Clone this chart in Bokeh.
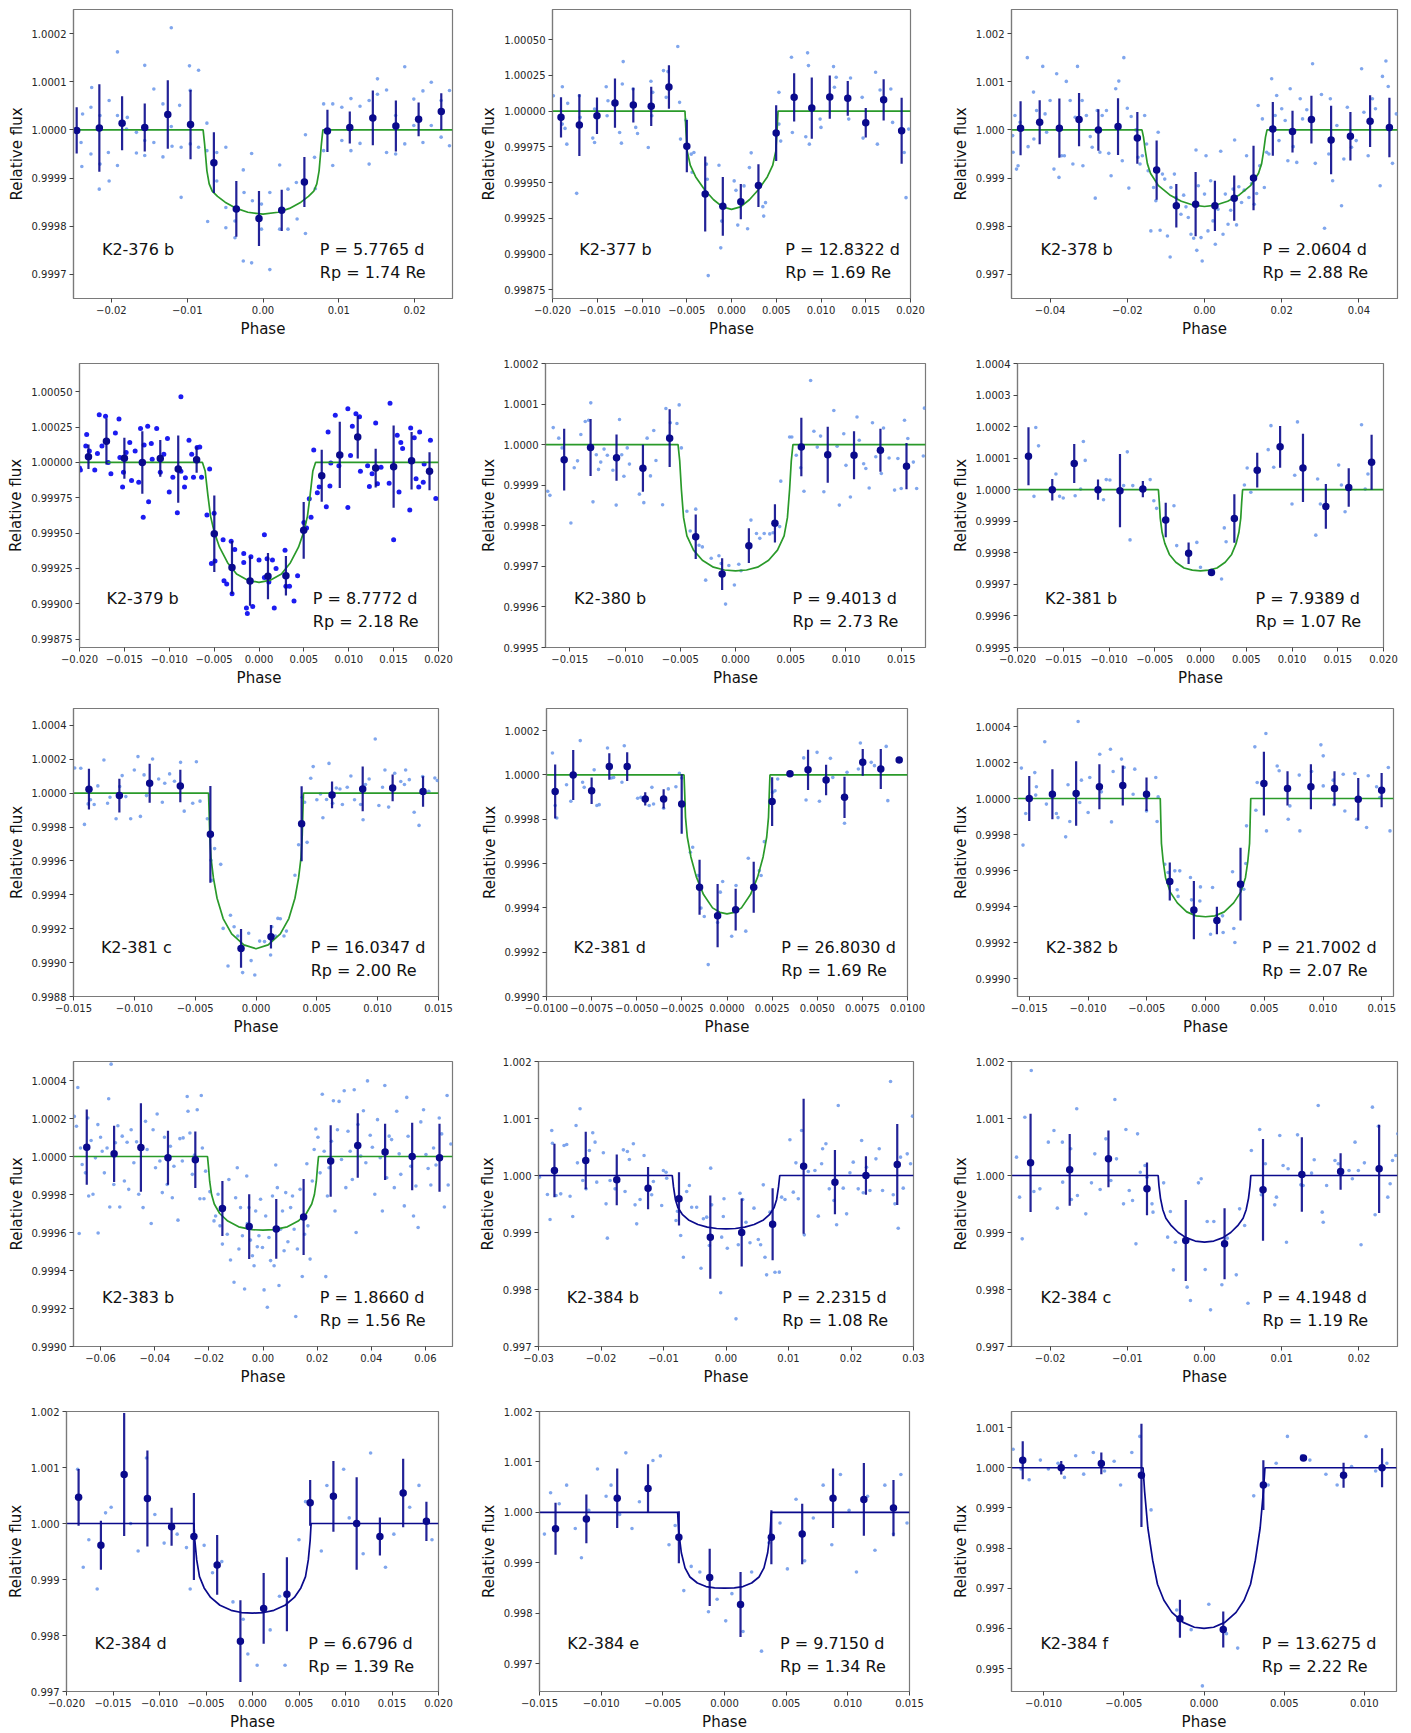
from bokeh.plotting import figure
from bokeh.layouts import column, row
from bokeh.models import Range1d, FixedTicker, CustomJSTickFormatter, Label
from bokeh.embed import file_html
from bokeh.resources import INLINE

FONT = "DejaVu Sans"
LIGHT = "#6a97ea"
BLUE = "#1010f0"
NAVY = "#0a0a8c"
GREEN = "#2a9a2a"

# Scatter points: (phase, flux offset in ppm)
# Binned points: (phase, flux offset in ppm, error in ppm)
# Model: left half of the transit curve (phase, ppm); mirrored about phase 0

names = ["K2-376 b", "K2-377 b", "K2-378 b", "K2-379 b", "K2-380 b", "K2-381 b",
         "K2-381 c", "K2-381 d", "K2-382 b", "K2-383 b", "K2-384 b", "K2-384 c",
         "K2-384 d", "K2-384 e", "K2-384 f"]
periods = ["5.7765", "12.8322", "2.0604", "8.7772", "9.4013", "7.9389", "16.0347", "26.8030",
           "21.7002", "1.8660", "2.2315", "4.1948", "6.6796", "9.7150", "13.6275"]
radii = ["1.74", "1.69", "2.88", "2.18", "2.73", "1.07", "2.00", "1.69",
         "2.07", "1.56", "1.08", "1.19", "1.39", "1.34", "2.22"]

# ---------------- K2-376 b ----------------
k376_pts = [(-0.0238,33),(-0.0239,-76),(-0.024,-26),(-0.0227,47),(-0.0226,88),(-0.0227,-50),(-0.0216,-123),(-0.0215,-71),(-0.0215,30),(-0.0203,61),(-0.0204,-47),(-0.0203,-106),(-0.0192,162),(-0.0192,-74),(-0.0192,30),(-0.0179,26),(-0.018,2),(-0.0167,-5),(-0.0167,-48),(-0.0156,134),(-0.0156,-53),(-0.0156,-22),(-0.0144,85),(-0.0144,-26),(-0.0132,54),(-0.0132,-56),(-0.0121,212),(-0.0121,7),(-0.012,-34),(-0.0108,-36),(-0.0108,-140),(-0.011,51),(-0.0097,133),(-0.0096,82),(-0.0096,-29),(-0.0085,124),(-0.0085,-36),(-0.0074,14),(-0.0073,-190),(-0.0074,-43),(-0.0061,-47),(-0.0061,-106),(-0.0049,-36),(-0.0049,-161),(-0.0049,-203),(-0.0037,-189),(-0.0037,-224),(-0.0026,-83),(-0.0026,-272),(-0.0025,-130),(-0.0015,-49),(-0.0015,-276),(-0.0014,-147),(-0.0002,-154),(-0.0002,-206),(0.0009,-130),(0.0009,-290),(0.0022,-73),(0.0022,-206),(0.0033,-123),(0.0033,-206),(0.0044,-109),(0.0045,-185),(0.0056,-10),(0.0056,-215),(0.0068,-57),(0.0069,-122),(0.008,54),(0.008,-43),(0.0092,54),(0.0092,-74),(0.0104,47),(0.0104,-22),(0.0116,65),(0.0116,-43),(0.0128,49),(0.0128,-28),(0.014,-71),(0.014,61),(0.0151,106),(0.0151,74),(0.0163,83),(0.0163,-47),(0.0175,30),(0.0175,-50),(0.0187,131),(0.0187,-29),(0.0199,64),(0.0199,9),(0.0211,81),(0.0211,-26),(0.0222,99),(0.0222,9),(0.0235,-15),(0.0235,61),(0.0246,82),(0.0246,-33)]
k376_bins = [(-0.02458,-1,48),(-0.02159,4,91),(-0.01859,14,56),(-0.0156,5,50),(-0.01256,32,71),(-0.00956,11,72),(-0.00648,-68,63),(-0.00352,-164,58),(-0.00053,-184,57),(0.00247,-167,43),(0.00546,-108,52),(0.0085,-2,44),(0.01145,5,33),(0.01449,25,57),(0.01753,8,53),(0.02053,22,35),(0.02352,38,38)]
k376_model = [(-0.025,0),(-0.0079,0),(-0.0077,-30),(-0.0074,-85),(-0.0071,-112),(-0.0067,-127),(-0.006,-138),(-0.005,-150),(-0.0035,-163),(-0.002,-171),(0.0,-175)]

# ---------------- K2-377 b ----------------
k377_pts = [(-0.0199,107),(-0.0189,170),(-0.0189,-91),(-0.0186,-121),(-0.0184,-231),(-0.0183,54),(-0.0173,-575),(-0.017,107),(-0.0169,-44),(-0.0155,-189),(-0.0153,-220),(-0.0153,14),(-0.014,170),(-0.0139,-33),(-0.0138,72),(-0.0125,-150),(-0.0123,-224),(-0.0121,346),(-0.0122,189),(-0.011,154),(-0.0107,-114),(-0.0105,-157),(-0.0093,-255),(-0.009,208),(-0.0088,131),(-0.0089,-33),(-0.0076,283),(-0.0073,96),(-0.0071,276),(-0.006,451),(-0.0058,61),(-0.0057,-196),(-0.0051,-63),(-0.0045,-301),(-0.0044,-428),(-0.0042,-290),(-0.0028,-371),(-0.0027,-477),(-0.0026,-1150),(-0.0014,-379),(-0.0012,-956),(-0.0011,-769),(0.0003,-488),(0.0005,-554),(0.0007,-797),(0.0014,-523),(0.0018,-822),(0.002,-395),(0.0022,-292),(0.0035,-668),(0.0036,-734),(0.0038,-640),(0.0053,-91),(0.0053,131),(0.0055,-210),(0.0067,376),(0.0068,-150),(0.0083,-180),(0.0085,407),(0.0086,318),(0.0087,-231),(0.0099,-56),(0.01,-114),(0.0114,311),(0.0115,166),(0.0117,236),(0.0131,-56),(0.0133,231),(0.0146,96),(0.0147,-189),(0.0161,271),(0.0163,-231),(0.0166,147),(0.0178,154),(0.018,-79),(0.0193,-290),(0.0195,-605),(0.0198,-126)]
k377_bins = [(-0.01905,-44,141),(-0.017,-98,216),(-0.01503,-33,128),(-0.01302,56,172),(-0.01097,42,121),(-0.00897,33,137),(-0.00699,168,152),(-0.00499,-245,183),(-0.00294,-579,262),(-0.00097,-666,206),(0.00104,-633,123),(0.00301,-521,150),(0.00499,-154,195),(0.007,96,169),(0.00897,21,214),(0.01098,98,151),(0.01299,89,122),(0.015,-82,103),(0.017,79,144),(0.01901,-138,231)]
k377_model = [(-0.02,0),(-0.0052,0),(-0.00508,-150),(-0.00495,-280),(-0.0046,-380),(-0.004,-460),(-0.003,-550),(-0.002,-620),(-0.001,-670),(0.0,-687)]

# ---------------- K2-378 b ----------------
k378_pts = [(-0.0497,-118),(-0.0496,-465),(-0.0491,299),(-0.0487,-813),(-0.0483,-743),(-0.0478,160),(-0.0459,1500),(-0.0457,-347),(-0.0443,785),(-0.0442,-188),(-0.0435,403),(-0.0419,1319),(-0.0413,333),(-0.0409,-49),(-0.04,611),(-0.039,-813),(-0.0383,1167),(-0.0377,-986),(-0.037,-535),(-0.0363,-535),(-0.0358,1007),(-0.0348,611),(-0.0341,-708),(-0.0335,264),(-0.0329,1319),(-0.0317,611),(-0.0315,-743),(-0.0306,299),(-0.0296,-139),(-0.0291,-361),(-0.0283,-1417),(-0.0278,403),(-0.0271,-465),(-0.0265,299),(-0.0254,403),(-0.0248,-486),(-0.0242,-951),(-0.023,854),(-0.0222,1014),(-0.0213,-639),(-0.0209,1500),(-0.02,451),(-0.0196,-1208),(-0.019,278),(-0.0178,0),(-0.0172,-569),(-0.0167,-708),(-0.0161,-535),(-0.0155,299),(-0.015,-292),(-0.0146,-847),(-0.0139,-2097),(-0.0132,-1194),(-0.0126,-1472),(-0.012,-49),(-0.0115,-2083),(-0.0109,-917),(-0.0103,-1021),(-0.0096,-2201),(-0.0089,-2639),(-0.0087,-1194),(-0.0078,-917),(-0.0074,-1403),(-0.0068,-1576),(-0.0061,-1750),(-0.0054,-1354),(-0.0048,-1597),(-0.0042,-1819),(-0.0035,-2167),(-0.0028,-2250),(-0.0022,-417),(-0.002,-2500),(-0.0016,-1160),(-0.0009,-2236),(-0.0006,-2722),(0.0,-1333),(0.0004,-535),(0.0009,-2097),(0.0016,-1056),(0.0022,-1889),(0.0028,-2375),(0.0035,-1646),(0.0042,-444),(0.0048,-2167),(0.0054,-1333),(0.0061,-1958),(0.0068,-1667),(0.0074,-1229),(0.0078,-208),(0.0083,-1972),(0.0089,-1181),(0.0096,-1507),(0.0103,-1250),(0.0109,-535),(0.0115,-1403),(0.0122,-1111),(0.0129,-1542),(0.0135,-1319),(0.0139,507),(0.0143,-743),(0.015,229),(0.0155,-1194),(0.0161,-465),(0.0167,-500),(0.0174,1063),(0.0183,299),(0.0187,715),(0.0193,-222),(0.02,438),(0.0209,194),(0.0216,-639),(0.0222,854),(0.023,-347),(0.0239,-674),(0.0248,646),(0.0254,229),(0.0265,417),(0.028,1375),(0.0287,-694),(0.0303,736),(0.0311,-2042),(0.0322,-500),(0.0326,646),(0.0332,-1056),(0.0343,90),(0.0355,-1576),(0.0361,-604),(0.037,472),(0.0381,-361),(0.0393,-222),(0.0407,1271),(0.0413,368),(0.0424,-535),(0.0435,646),(0.0443,438),(0.0455,-1160),(0.0461,1111),(0.047,1431),(0.0476,903),(0.0487,-694),(0.0497,333)]
k378_bins = [(-0.04765,35,562),(-0.0427,160,458),(-0.0376,35,615),(-0.0325,215,552),(-0.0275,0,430),(-0.0224,69,590),(-0.0174,-167,538),(-0.0124,-833,615),(-0.0073,-1576,451),(-0.0023,-1542,667),(0.0027,-1576,521),(0.0077,-1417,469),(0.0127,-1000,670),(0.0177,21,556),(0.0228,-35,434),(0.0277,215,496),(0.0328,-208,712),(0.0378,-132,503),(0.0429,181,538),(0.0479,49,618)]
k378_model = [(-0.05,0),(-0.0162,0),(-0.0158,-150),(-0.0153,-450),(-0.0148,-700),(-0.014,-900),(-0.012,-1150),(-0.009,-1350),(-0.006,-1480),(-0.003,-1560),(0.0,-1590)]

# ---------------- K2-379 b ----------------
k379_pts = [(-0.02,-40),(-0.0199,-53),(-0.0192,198),(-0.0193,116),(-0.0189,81),(-0.0183,-53),(-0.018,63),(-0.0178,337),(-0.0175,116),(-0.0171,326),(-0.0168,0),(-0.0165,-81),(-0.016,209),(-0.0156,307),(-0.0155,35),(-0.0152,-174),(-0.0151,-70),(-0.0148,70),(-0.0144,140),(-0.0142,-128),(-0.0138,81),(-0.0134,-140),(-0.0132,240),(-0.0129,-388),(-0.0128,123),(-0.0124,256),(-0.0123,-279),(-0.012,133),(-0.0119,23),(-0.0114,240),(-0.011,-70),(-0.0106,58),(-0.0102,170),(-0.01,-209),(-0.0096,-105),(-0.0091,-356),(-0.0087,465),(-0.0087,-63),(-0.0083,-174),(-0.0082,-109),(-0.0078,156),(-0.0075,58),(-0.0073,-105),(-0.0069,105),(-0.0066,109),(-0.0064,-105),(-0.0058,-372),(-0.0055,-47),(-0.0053,-716),(-0.005,-360),(-0.0049,-698),(-0.004,-547),(-0.0039,-837),(-0.0036,-860),(-0.0031,-558),(-0.003,-930),(-0.0027,-616),(-0.0017,-644),(-0.0017,-709),(-0.0014,-1030),(-0.0013,-1070),(-0.0009,-667),(-0.0007,-1019),(0.0,-691),(0.0006,-814),(0.0006,-512),(0.0009,-681),(0.0011,-847),(0.0015,-691),(0.0017,-1030),(0.0019,-751),(0.0029,-621),(0.003,-877),(0.0034,-877),(0.0039,-981),(0.0043,-802),(0.005,-426),(0.0053,-465),(0.0056,-258),(0.0058,-388),(0.0061,88),(0.0065,-214),(0.0067,-174),(0.0075,-314),(0.0077,216),(0.0079,-167),(0.008,-5),(0.0085,333),(0.0089,-23),(0.0099,379),(0.0099,-319),(0.0102,49),(0.0104,256),(0.0108,344),(0.0112,323),(0.0113,-63),(0.0121,-23),(0.0123,-170),(0.0126,-81),(0.013,279),(0.0132,-151),(0.0136,-35),(0.0145,-147),(0.0146,419),(0.015,-547),(0.0154,193),(0.0156,-209),(0.0158,140),(0.016,98),(0.0168,-337),(0.0169,244),(0.0173,174),(0.0175,-116),(0.0178,-174),(0.0179,216),(0.0183,-140),(0.0184,-12),(0.0191,156),(0.0197,-256)]
k379_bins = [(-0.019,40,87),(-0.017,149,163),(-0.015,30,145),(-0.013,0,221),(-0.011,28,130),(-0.009,-47,238),(-0.00695,19,93),(-0.00498,-505,271),(-0.00301,-744,188),(-0.001,-840,174),(0.001,-805,163),(0.003,-802,140),(0.00498,-481,201),(0.00699,-95,184),(0.009,53,235),(0.011,179,151),(0.013,-40,137),(0.015,-30,291),(0.017,12,204),(0.019,-63,134)]
k379_model = [(-0.02,0),(-0.0063,0),(-0.006,-60),(-0.0057,-230),(-0.0054,-380),(-0.005,-490),(-0.0044,-600),(-0.0035,-710),(-0.0025,-790),(-0.0012,-835),(0.0,-849)]

# ---------------- K2-380 b ----------------
k380_pts = [(-0.017,-115),(-0.0168,-125),(-0.0165,42),(-0.016,16),(-0.0157,-8),(-0.0149,-193),(-0.0146,-57),(-0.0143,-40),(-0.014,25),(-0.0136,57),(-0.0133,60),(-0.0131,103),(-0.0129,-141),(-0.0126,-25),(-0.0124,-61),(-0.0122,-43),(-0.0119,-11),(-0.0116,-26),(-0.0111,-63),(-0.0108,-149),(-0.0105,62),(-0.0103,-25),(-0.0101,-78),(-0.0098,-8),(-0.0096,-48),(-0.0087,-122),(-0.0083,-143),(-0.008,16),(-0.0077,-77),(-0.0074,35),(-0.0072,-39),(-0.0066,-148),(-0.0063,89),(-0.0061,21),(-0.0059,54),(-0.0053,52),(-0.0051,98),(-0.0049,-8),(-0.0044,-164),(-0.0041,-213),(-0.0036,-159),(-0.0033,-248),(-0.003,-252),(-0.0027,-334),(-0.0022,-280),(-0.0015,-274),(-0.0013,-293),(-0.0009,-393),(-0.0006,-298),(-0.0001,-346),(0.0003,-295),(0.0005,-311),(0.0014,-186),(0.0019,-219),(0.0022,-231),(0.0026,-219),(0.0031,-220),(0.0034,-217),(0.004,-202),(0.0041,-90),(0.0049,19),(0.0051,19),(0.0055,-26),(0.0059,-57),(0.0062,-115),(0.0068,158),(0.0071,33),(0.0074,-6),(0.0077,21),(0.008,-116),(0.0089,84),(0.0092,-4),(0.0094,-149),(0.0098,27),(0.01,-51),(0.0104,-129),(0.011,68),(0.0112,11),(0.0116,-47),(0.0118,-59),(0.0121,-107),(0.0124,54),(0.0127,-30),(0.0132,-71),(0.0134,41),(0.0139,-33),(0.0144,-112),(0.0147,-34),(0.015,-108),(0.0153,60),(0.0156,15),(0.0161,-43),(0.0164,-108),(0.017,-28),(0.0171,90)]
k380_bins = [(-0.01551,-37,76),(-0.01312,-7,70),(-0.01077,-32,57),(-0.00838,-58,58),(-0.00596,16,71),(-0.0036,-227,55),(-0.00121,-319,39),(0.00121,-249,43),(0.00357,-194,47),(0.00596,-6,72),(0.00835,-25,69),(0.01073,-26,59),(0.01312,-14,53),(0.01548,-53,57)]
k380_model = [(-0.0172,0),(-0.0052,0),(-0.00505,-40),(-0.0049,-110),(-0.0047,-180),(-0.0044,-225),(-0.0038,-260),(-0.003,-285),(-0.002,-302),(-0.001,-309),(0.0,-311)]

# ---------------- K2-381 b ----------------
k381b_pts = [(-0.0182,-21),(-0.018,197),(-0.0177,139),(-0.0158,50),(-0.0154,-21),(-0.015,-26),(-0.0137,-19),(-0.0131,2),(-0.0128,153),(-0.0126,93),(-0.0106,-32),(-0.0103,32),(-0.0099,31),(-0.0084,13),(-0.008,120),(-0.0077,-159),(-0.0074,13),(-0.0055,32),(-0.0051,-35),(-0.0048,-59),(-0.0029,-51),(-0.0026,-177),(-0.0004,-167),(0.0,-246),(0.0013,-260),(0.0023,-283),(0.0026,-121),(0.0028,-165),(0.0048,15),(0.0051,69),(0.0055,-8),(0.0074,127),(0.0077,203),(0.008,71),(0.01,-45),(0.0103,46),(0.0106,215),(0.0128,34),(0.0126,-144),(0.0131,-45),(0.0151,78),(0.0154,15),(0.0158,-70),(0.0176,206),(0.018,2),(0.0183,50)]
k381b_bins = [(-0.0188,106,92),(-0.0162,0,34),(-0.0138,83,62),(-0.0112,0,32),(-0.0088,-3,116),(-0.0063,2,26),(-0.0038,-96,55),(-0.0013,-201,34),(0.0012,-262,11),(0.0037,-91,77),(0.0062,62,55),(0.0087,136,66),(0.0112,69,108),(0.0137,-53,71),(0.0162,7,61),(0.0187,87,87)]
k381b_model = [(-0.02,0),(-0.0046,0),(-0.0045,-40),(-0.0044,-90),(-0.0042,-135),(-0.0039,-170),(-0.0034,-205),(-0.0027,-230),(-0.0018,-248),(-0.0009,-255),(0.0,-257)]

# ---------------- K2-381 c ----------------
k381c_pts = [(-0.0149,149),(-0.0144,147),(-0.0141,-184),(-0.0138,-63),(-0.0136,-39),(-0.0133,-67),(-0.013,43),(-0.0125,196),(-0.0122,-59),(-0.012,-24),(-0.0115,-151),(-0.0112,39),(-0.011,104),(-0.0107,-20),(-0.0103,-151),(-0.01,137),(-0.0097,216),(-0.0095,-137),(-0.0092,108),(-0.009,-14),(-0.0085,202),(-0.008,84),(-0.0077,-53),(-0.0075,59),(-0.0071,114),(-0.0067,71),(-0.0062,182),(-0.0059,-106),(-0.0052,-59),(-0.0049,186),(-0.0046,-47),(-0.004,-151),(-0.0037,-396),(-0.0036,-514),(-0.0034,-327),(-0.0029,-420),(-0.0027,-798),(-0.0023,-1020),(-0.0021,-720),(-0.0018,-788),(-0.0015,-843),(-0.0011,-1059),(-0.0006,-827),(-0.0004,-988),(-0.0001,-1073),(0.0003,-873),(0.0007,-876),(0.0012,-955),(0.0013,-788),(0.0016,-843),(0.0018,-739),(0.002,-741),(0.0023,-843),(0.0025,-814),(0.0032,-484),(0.0035,-304),(0.0038,-24),(0.004,-53),(0.0042,-290),(0.0045,88),(0.0047,157),(0.005,-39),(0.0053,-4),(0.0055,-145),(0.0058,-37),(0.006,176),(0.0063,-59),(0.0066,31),(0.0069,25),(0.0071,-67),(0.0075,35),(0.0078,102),(0.0081,-39),(0.0086,-67),(0.0088,-157),(0.009,51),(0.0093,84),(0.0098,320),(0.0101,-73),(0.0104,35),(0.0106,137),(0.0109,-82),(0.0114,118),(0.0119,69),(0.0122,51),(0.0123,137),(0.0126,80),(0.013,-112),(0.0134,-190),(0.0137,98),(0.0142,12),(0.0147,90),(0.0149,75)]
k381c_bins = [(-0.01373,24,120),(-0.01123,-14,100),(-0.00874,59,115),(-0.00622,43,96),(-0.00375,-243,285),(-0.00123,-916,115),(0.00123,-847,69),(0.00375,-180,221),(0.00625,-10,79),(0.00877,25,132),(0.01123,31,79),(0.01373,10,90)]
k381c_model = [(-0.015,0),(-0.0039,0),(-0.00385,-120),(-0.0038,-250),(-0.0037,-380),(-0.0035,-500),(-0.0032,-620),(-0.0027,-740),(-0.002,-830),(-0.001,-895),(0.0,-918)]

# ---------------- K2-381 d ----------------
k381d_pts = [(-0.00967,99),(-0.00952,-138),(-0.00943,-194),(-0.00889,-44),(-0.00865,-119),(-0.00813,155),(-0.008,-33),(-0.00791,-56),(-0.00736,23),(-0.00721,-138),(-0.00708,-134),(-0.00662,122),(-0.0064,-14),(-0.00628,-11),(-0.00582,-33),(-0.00569,132),(-0.00495,-105),(-0.00477,-101),(-0.00431,-138),(-0.00416,-56),(-0.00407,-131),(-0.00351,-150),(-0.00325,-63),(-0.00283,-53),(-0.00264,8),(-0.00251,-14),(-0.00203,-349),(-0.0019,-326),(-0.00163,-454),(-0.00144,-601),(-0.00126,-639),(-0.00104,-856),(-0.00052,-666),(-0.00037,-529),(-0.00024,-481),(0.00026,-728),(0.0005,-499),(0.00104,-705),(0.00118,-376),(0.00179,-432),(0.00189,-454),(0.00207,-301),(0.00253,-78),(0.00266,-71),(0.00281,-18),(0.00355,2),(0.00425,77),(0.00438,-113),(0.00499,102),(0.00512,-119),(0.00573,75),(0.00586,-11),(0.00665,12),(0.00651,-218),(0.00728,27),(0.00739,144),(0.00799,57),(0.00817,42),(0.00882,129),(0.00891,-116),(0.00952,68)]
k381d_bins = [(-0.00952,-75,122),(-0.00852,0,113),(-0.0075,-71,60),(-0.00652,38,60),(-0.00553,38,65),(-0.00453,-108,30),(-0.00351,-108,43),(-0.00251,-131,134),(-0.00152,-507,124),(-0.00052,-635,143),(0.00048,-608,94),(0.00148,-507,115),(0.0025,-120,110),(0.00349,5,10),(0.00449,23,91),(0.00549,-23,69),(0.00651,-101,93),(0.00752,57,60),(0.00852,27,90),(0.00954,68,8)]
k381d_model = [(-0.01,0),(-0.00238,0),(-0.00234,-90),(-0.0023,-190),(-0.0022,-280),(-0.002,-370),(-0.0017,-460),(-0.0013,-540),(-0.0008,-600),(-0.0004,-620),(0.0,-627)]

# ---------------- K2-382 b ----------------
k382_pts = [(-0.01567,169),(-0.01553,-259),(-0.0153,-83),(-0.01453,144),(-0.01439,65),(-0.01445,19),(-0.01368,315),(-0.01354,-31),(-0.01269,-83),(-0.01255,-106),(-0.0119,-213),(-0.0117,76),(-0.01155,-128),(-0.01084,428),(-0.0107,-22),(-0.01056,102),(-0.00999,-78),(-0.00985,117),(-0.009,246),(-0.00886,37),(-0.00809,274),(-0.008,-130),(-0.00786,150),(-0.00715,219),(-0.00693,172),(-0.00616,24),(-0.00602,163),(-0.00502,-69),(-0.00423,117),(-0.00412,-128),(-0.00403,9),(-0.00346,-365),(-0.00318,-411),(-0.00261,-402),(-0.00241,-507),(-0.00233,-544),(-0.00219,-402),(-0.00128,-439),(-0.00119,-563),(-0.00048,-569),(-0.00043,-491),(0.00043,-754),(0.0006,-494),(0.00094,-685),(0.00145,-652),(0.0015,-744),(0.0023,-407),(0.00241,-722),(0.0025,-800),(0.00326,-504),(0.00343,-361),(0.00349,-152),(0.0042,287),(0.00429,-65),(0.0044,89),(0.00514,361),(0.00519,-180),(0.0061,181),(0.00627,154),(0.00704,-115),(0.00718,-41),(0.00798,130),(0.00803,-180),(0.00888,70),(0.00903,150),(0.00982,298),(0.01002,237),(0.01002,70),(0.01087,102),(0.01093,-35),(0.01172,135),(0.01186,-69),(0.01271,139),(0.01286,-115),(0.01371,-161),(0.01385,126),(0.01456,65),(0.01484,6),(0.01556,172),(0.0157,-180)]
k382_bins = [(-0.015,0,125),(-0.01303,24,139),(-0.01101,28,179),(-0.00903,65,125),(-0.00704,72,111),(-0.00502,24,93),(-0.00304,-461,105),(-0.00099,-620,162),(0.00097,-678,76),(0.00298,-476,202),(0.00497,83,177),(0.00698,56,95),(0.00897,65,125),(0.01098,56,95),(0.013,-4,118),(0.01499,46,95)]
k382_model = [(-0.016,0),(-0.00385,0),(-0.0038,-130),(-0.00375,-250),(-0.0036,-350),(-0.0034,-440),(-0.003,-520),(-0.0024,-580),(-0.0016,-630),(-0.0008,-652),(0.0,-657)]

# ---------------- K2-383 b ----------------
k383_pts = [(-0.0697,211),(-0.0689,159),(-0.0684,363),(-0.0679,-405),(-0.0674,45),(-0.0668,-42),(-0.0656,-86),(-0.0647,203),(-0.0644,-208),(-0.0635,84),(-0.0628,-199),(-0.0619,-7),(-0.061,168),(-0.0609,-403),(-0.06,101),(-0.0594,28),(-0.0586,-86),(-0.0576,45),(-0.057,304),(-0.0566,-266),(-0.0561,486),(-0.0551,-147),(-0.0545,72),(-0.0536,162),(-0.0529,-266),(-0.052,107),(-0.0512,-129),(-0.0502,75),(-0.0496,-173),(-0.0487,141),(-0.0477,-33),(-0.0467,77),(-0.0459,-199),(-0.0443,-269),(-0.0434,185),(-0.0428,37),(-0.0413,-353),(-0.0406,141),(-0.0397,-59),(-0.0391,224),(-0.0381,-24),(-0.0372,-190),(-0.0364,101),(-0.0354,-147),(-0.0342,54),(-0.0335,-217),(-0.0329,-51),(-0.0314,-335),(-0.0307,94),(-0.0298,-24),(-0.0295,98),(-0.028,316),(-0.0277,238),(-0.027,124),(-0.0261,-94),(-0.0253,7),(-0.0243,246),(-0.0233,-222),(-0.0228,321),(-0.0224,45),(-0.0218,-222),(-0.0212,-77),(-0.0196,-185),(-0.0181,-339),(-0.0175,-313),(-0.0166,-199),(-0.0159,-365),(-0.015,-461),(-0.0142,-269),(-0.0132,-409),(-0.0126,-121),(-0.012,-545),(-0.0107,-662),(-0.0101,-217),(-0.0095,-59),(-0.0089,-487),(-0.0083,-269),(-0.0076,-417),(-0.0068,-697),(-0.006,-103),(-0.0058,-353),(-0.0052,-269),(-0.0046,-440),(-0.0039,-522),(-0.0033,-575),(-0.0027,-287),(-0.0021,-475),(-0.0015,-417),(-0.0009,-225),(-0.0002,-479),(0.0004,-702),(0.001,-313),(0.0016,-793),(0.0022,-426),(0.0028,-548),(0.0035,-208),(0.0041,-575),(0.0047,-45),(0.0053,-164),(0.0059,-679),(0.0065,-383),(0.0072,-287),(0.0078,-496),(0.0084,-190),(0.0092,-449),(0.0102,-269),(0.0109,-208),(0.0115,-383),(0.0121,-842),(0.0127,-487),(0.0137,-173),(0.0145,-632),(0.0154,-409),(0.0162,-38),(0.0166,-365),(0.0174,-540),(0.0182,-129),(0.0189,37),(0.0195,145),(0.0203,101),(0.0211,-86),(0.0219,328),(0.0226,28),(0.0232,-632),(0.0238,-208),(0.0244,-59),(0.0253,80),(0.026,293),(0.0266,-287),(0.0275,141),(0.0281,290),(0.029,-16),(0.03,346),(0.0306,-164),(0.0314,133),(0.0322,28),(0.033,-121),(0.0337,351),(0.0344,-400),(0.0351,168),(0.0361,2),(0.0371,241),(0.038,-33),(0.0386,398),(0.0396,112),(0.0404,49),(0.0413,-199),(0.0423,194),(0.0433,-7),(0.0441,-287),(0.045,374),(0.0457,-112),(0.0466,107),(0.0475,89),(0.0485,-164),(0.0494,238),(0.0503,14),(0.0509,-94),(0.0522,-260),(0.0531,311),(0.0536,107),(0.0546,-51),(0.0556,-313),(0.0565,-155),(0.0573,-374),(0.0583,182),(0.0593,246),(0.0602,10),(0.061,-63),(0.062,-150),(0.063,45),(0.0639,-45),(0.0651,203),(0.066,119),(0.067,-266),(0.068,321),(0.0684,-150),(0.0694,66)]
k383_bins = [(-0.0651,49,198),(-0.055,14,148),(-0.0451,47,233),(-0.0351,-7,142),(-0.025,-17,149),(-0.015,-274,145),(-0.0051,-369,170),(0.0049,-381,157),(0.015,-318,200),(0.025,-24,188),(0.035,58,170),(0.0451,24,148),(0.0551,0,178),(0.0652,-7,179)]
k383_model = [(-0.07,0),(-0.0205,0),(-0.0201,-60),(-0.0197,-130),(-0.019,-200),(-0.018,-250),(-0.016,-300),(-0.013,-340),(-0.009,-370),(-0.004,-385),(0.0,-388)]

# ---------------- K2-384 b ----------------
k384b_pts = [(-0.02985,-29),(-0.02857,-333),(-0.02815,-772),(-0.02788,789),(-0.02777,567),(-0.02719,-351),(-0.02644,-322),(-0.02591,526),(-0.02548,544),(-0.02495,-363),(-0.02452,-719),(-0.02399,877),(-0.02377,222),(-0.02335,1170),(-0.02292,-88),(-0.02239,-234),(-0.02186,439),(-0.02132,749),(-0.02095,585),(-0.02068,-117),(-0.01962,398),(-0.01919,-497),(-0.01898,-1099),(-0.01855,-88),(-0.01775,-234),(-0.01722,-99),(-0.01642,450),(-0.01615,-281),(-0.01578,421),(-0.01546,281),(-0.01482,556),(-0.01455,-515),(-0.01429,-848),(-0.01375,-421),(-0.01311,351),(-0.01242,-234),(-0.01189,-339),(-0.01162,-105),(-0.01029,-526),(-0.01002,88),(-0.00959,58),(-0.00949,-47),(-0.008,-789),(-0.00778,-626),(-0.00725,-1053),(-0.00682,-1433),(-0.00629,-281),(-0.00586,-175),(-0.00549,-556),(-0.00469,-556),(-0.004,-1626),(-0.00362,-760),(-0.00309,-731),(-0.00267,-1228),(-0.00245,129),(-0.00229,-515),(-0.00085,-2058),(-0.00069,-1082),(-0.00043,-719),(-0.00032,-409),(0.00021,-1275),(0.0016,-2515),(0.00197,-1216),(0.00224,-310),(0.00267,-421),(0.0032,-819),(0.00384,-1181),(0.00448,-573),(0.00517,-1123),(0.00554,-1216),(0.00597,-164),(0.00624,-1433),(0.0065,-1743),(0.00704,-643),(0.00784,-1696),(0.00853,-1696),(0.0089,-380),(0.00944,-421),(0.01023,626),(0.01077,-292),(0.01119,222),(0.01157,-409),(0.0121,789),(0.01253,-1041),(0.01317,70),(0.01423,88),(0.01477,-713),(0.0153,205),(0.01546,468),(0.01599,556),(0.01652,-234),(0.01727,-439),(0.0177,-865),(0.01796,1228),(0.01876,-222),(0.0193,-673),(0.01983,47),(0.02036,234),(0.02116,-234),(0.0217,614),(0.02196,-304),(0.02249,146),(0.02303,-263),(0.02399,292),(0.02452,468),(0.02505,-263),(0.02633,1649),(0.02676,-339),(0.02703,-497),(0.02756,-924),(0.02793,322),(0.02836,-222),(0.029,380),(0.02953,205),(0.02985,1041)]
k384b_bins = [(-0.02745,88,468),(-0.02244,263,503),(-0.01748,-76,444),(-0.01247,-222,371),(-0.00752,-409,468),(-0.00251,-1082,731),(0.00251,-1000,596),(0.00746,-854,632),(0.01242,164,1184),(0.01743,-117,564),(0.02239,0,339),(0.0274,193,711)]
k384b_model = [(-0.03,0),(-0.0086,0),(-0.0084,-200),(-0.0081,-420),(-0.0077,-560),(-0.007,-680),(-0.006,-780),(-0.0045,-860),(-0.003,-905),(-0.0015,-930),(0.0,-936)]

# ---------------- K2-384 c ----------------
k384c_pts = [(-0.02435,322),(-0.02396,-380),(-0.02361,-1111),(-0.02327,1023),(-0.02244,1842),(-0.0221,-281),(-0.02132,-234),(-0.02023,585),(-0.0195,789),(-0.01906,-573),(-0.01841,585),(-0.01837,-117),(-0.01733,468),(-0.01724,-421),(-0.01655,1170),(-0.01646,-351),(-0.01538,-673),(-0.01464,-129),(-0.01421,380),(-0.01352,-246),(-0.01278,643),(-0.01213,-88),(-0.01161,1333),(-0.0114,292),(-0.01049,-497),(-0.01018,807),(-0.00975,-263),(-0.00932,-439),(-0.00888,-1199),(-0.00867,731),(-0.00832,58),(-0.00771,175),(-0.00745,-29),(-0.0068,-497),(-0.00667,-643),(-0.00529,-129),(-0.00477,-1082),(-0.00442,-632),(-0.00403,-1655),(-0.00377,-1170),(-0.00225,-1959),(-0.00182,-2193),(-0.00078,-129),(-0.00043,-58),(0.00009,-1649),(0.00035,-807),(0.00078,-2357),(0.00121,-807),(0.00225,-1918),(0.00295,-1099),(0.00412,-1743),(0.00455,-585),(0.0052,-877),(0.00563,-2240),(0.00607,439),(0.00715,807),(0.00737,-339),(0.00789,205),(0.0091,-515),(0.00932,-380),(0.00975,702),(0.01018,175),(0.01062,-1170),(0.01083,117),(0.01205,713),(0.01248,-164),(0.01278,-175),(0.01387,41),(0.01421,275),(0.01473,1228),(0.01525,-643),(0.01538,-819),(0.01582,-175),(0.0169,263),(0.01733,205),(0.01776,12),(0.01872,88),(0.01915,-58),(0.0195,585),(0.01993,88),(0.02028,-1216),(0.02071,222),(0.02175,1199),(0.0221,-690),(0.02253,865),(0.02374,-380),(0.02405,-146),(0.02435,263),(0.02478,351),(0.02504,731)]
k384c_bins = [(-0.02253,222,863),(-0.01746,99,629),(-0.01244,292,497),(-0.00745,-234,462),(-0.00243,-1140,711),(0.0026,-1199,623),(0.00758,-251,892),(0.01261,18,652),(0.01763,70,322),(0.02262,117,775)]
k384c_model = [(-0.025,0),(-0.006,0),(-0.0059,-180),(-0.0057,-400),(-0.0054,-600),(-0.005,-750),(-0.0043,-880),(-0.0034,-1000),(-0.0024,-1090),(-0.0012,-1150),(0.0,-1170)]

# ---------------- K2-384 d ----------------
k384d_pts = [(-0.0188,970),(-0.0182,-780),(-0.0176,-290),(-0.0167,-1170),(-0.0158,190),(-0.0152,290),(-0.0131,0),(-0.0123,-490),(-0.0114,1170),(-0.0105,160),(-0.0095,-350),(-0.0081,-190),(-0.0071,-430),(-0.0067,-1170),(-0.0052,-390),(-0.0043,-880),(-0.0033,-680),(-0.0021,-1400),(-0.001,-1710),(-0.0005,-2330),(0.0005,-2530),(0.0019,-1900),(0.0029,-1300),(0.0035,-2530),(0.005,-290),(0.0057,390),(0.0074,-490),(0.008,680),(0.0098,970),(0.0104,100),(0.0119,-540),(0.0127,1260),(0.0143,-780),(0.0152,-190),(0.0169,290),(0.0179,680),(0.0193,-290)]
k384d_bins = [(-0.0187,467,506),(-0.0163,-389,437),(-0.0138,875,1100),(-0.0113,447,856),(-0.0087,-58,340),(-0.0063,-233,778),(-0.0038,-739,535),(-0.0013,-2101,730),(0.0012,-1517,632),(0.0037,-1265,661),(0.0062,370,408),(0.0087,486,632),(0.0112,0,827),(0.0137,-233,340),(0.0162,545,613),(0.0187,39,350)]
k384d_model = [(-0.02,0),(-0.0063,0),(-0.0062,-300),(-0.006,-650),(-0.0057,-950),(-0.0052,-1150),(-0.0045,-1320),(-0.0035,-1460),(-0.0023,-1550),(-0.0012,-1590),(0.0,-1600)]

# ---------------- K2-384 e ----------------
k384e_pts = [(-0.0146,-430),(-0.0141,390),(-0.0134,170),(-0.0128,540),(-0.0121,-320),(-0.0116,-900),(-0.011,40),(-0.0103,860),(-0.0096,320),(-0.0092,540),(-0.0085,-40),(-0.008,1180),(-0.0075,-320),(-0.0069,210),(-0.0058,1030),(-0.0052,1120),(-0.0045,-640),(-0.004,-260),(-0.0033,-1550),(-0.0027,-1070),(-0.002,-1180),(-0.0013,-1970),(-0.0006,-1720),(0.0001,-2150),(0.0006,-1610),(0.0015,-2360),(0.0022,-1180),(0.003,-2750),(0.0036,-600),(0.0045,-210),(0.0051,-1120),(0.0058,260),(0.0065,-960),(0.0072,-110),(0.008,540),(0.0087,-640),(0.0094,750),(0.0101,40),(0.0107,-1180),(0.0116,320),(0.0122,-750),(0.013,540),(0.0137,-430),(0.0143,750),(0.0148,-210)]
k384e_bins = [(-0.0137,-322,515),(-0.0112,-129,483),(-0.0087,279,590),(-0.0062,472,483),(-0.0037,-494,515),(-0.0012,-1288,569),(0.0013,-1824,644),(0.0038,-494,536),(0.0063,-429,600),(0.0088,279,590),(0.0113,258,719),(0.0137,86,558)]
k384e_model = [(-0.015,0),(-0.0038,0),(-0.0037,-400),(-0.0035,-800),(-0.0032,-1100),(-0.0028,-1280),(-0.0022,-1400),(-0.0015,-1470),(-0.0008,-1495),(0.0,-1500)]

# ---------------- K2-384 f ----------------
k384f_pts = [(-0.0119,460),(-0.0114,-30),(-0.0109,-300),(-0.0102,190),(-0.0097,-30),(-0.0091,110),(-0.0087,-240),(-0.008,300),(-0.0075,-160),(-0.0069,380),(-0.0062,-80),(-0.0056,160),(-0.0052,-430),(-0.0045,380),(-0.004,780),(-0.0033,-1050),(-0.0017,-3540),(-0.0008,-4030),(-0.0001,-5430),(0.0003,-3400),(0.0014,-4130),(0.0021,-4490),(0.0031,-700),(0.004,-430),(0.0045,110),(0.0052,780),(0.0061,300),(0.0066,190),(0.0076,-160),(0.0083,-430),(0.0092,30),(0.0101,780),(0.0107,-80),(0.0114,110)]
k384f_bins = [(-0.0113,189,473),(-0.0089,0,170),(-0.0064,108,270),(-0.0039,-189,1284),(-0.0015,-3757,473),(0.0012,-4027,446),(0.0037,-432,620),(0.0062,243,50),(0.0087,-189,311),(0.0111,0,486)]
k384f_model = [(-0.012,0),(-0.0038,0),(-0.0037,-600),(-0.0035,-1500),(-0.0032,-2300),(-0.0029,-2900),(-0.0025,-3300),(-0.002,-3600),(-0.0013,-3850),(-0.0006,-3970),(0.0,-4000)]

# ---------------- axis limits and ticks ----------------
xlims = [(-0.025, 0.025), (-0.02, 0.02), (-0.05, 0.05), (-0.02, 0.02), (-0.0172, 0.0172),
         (-0.02, 0.02), (-0.015, 0.015), (-0.01, 0.01), (-0.016, 0.016), (-0.07, 0.07),
         (-0.03, 0.03), (-0.025, 0.025), (-0.02, 0.02), (-0.015, 0.015), (-0.012, 0.012)]
ylims = [(0.99965, 1.00025), (0.99869, 1.00071), (0.9965, 1.0025), (0.99869, 1.0007),
         (0.9995, 1.0002), (0.9995, 1.0004), (0.9988, 1.0005), (0.999, 1.0003),
         (0.9989, 1.0005), (0.999, 1.0005), (0.997, 1.002), (0.997, 1.002),
         (0.997, 1.002), (0.99645, 1.002), (0.99443, 1.0014)]

xt_a = [-0.02, -0.01, 0.0, 0.01, 0.02]
xt_b = [-0.02, -0.015, -0.01, -0.005, 0.0, 0.005, 0.01, 0.015, 0.02]
xt_c = [-0.04, -0.02, 0.0, 0.02, 0.04]
xt_d = [-0.015, -0.01, -0.005, 0.0, 0.005, 0.01, 0.015]
xt_e = [-0.01, -0.0075, -0.005, -0.0025, 0.0, 0.0025, 0.005, 0.0075, 0.01]
xt_f = [-0.06, -0.04, -0.02, 0.0, 0.02, 0.04, 0.06]
xt_g = [-0.03, -0.02, -0.01, 0.0, 0.01, 0.02, 0.03]
xt_h = [-0.01, -0.005, 0.0, 0.005, 0.01]

yt_a = [0.9997, 0.9998, 0.9999, 1.0, 1.0001, 1.0002]
yt_b = [0.99875, 0.999, 0.99925, 0.9995, 0.99975, 1.0, 1.00025, 1.0005]
yt_c = [0.997, 0.998, 0.999, 1.0, 1.001, 1.002]
yt_d = [0.9995, 0.9996, 0.9997, 0.9998, 0.9999, 1.0, 1.0001, 1.0002]
yt_e = [0.9995, 0.9996, 0.9997, 0.9998, 0.9999, 1.0, 1.0001, 1.0002, 1.0003, 1.0004]
yt_f = [0.9988, 0.999, 0.9992, 0.9994, 0.9996, 0.9998, 1.0, 1.0002, 1.0004]
yt_g = [0.999, 0.9992, 0.9994, 0.9996, 0.9998, 1.0, 1.0002]
yt_h = [0.999, 0.9992, 0.9994, 0.9996, 0.9998, 1.0, 1.0002, 1.0004]
yt_i = [0.995, 0.996, 0.997, 0.998, 0.999, 1.0, 1.001]

xticks = [xt_a, xt_b, xt_c, xt_b, xt_d, xt_b, xt_d, xt_e, xt_d, xt_f, xt_g, xt_a, xt_b, xt_d, xt_h]
yticks = [yt_a, yt_b, yt_c, yt_b, yt_d, yt_e, yt_f, yt_g, yt_h, yt_h, yt_c, yt_c, yt_c, yt_c, yt_i]
xdec = [2, 3, 2, 3, 3, 3, 3, 4, 3, 2, 2, 2, 3, 3, 3]
ydec = [4, 5, 3, 5, 4, 4, 4, 4, 4, 4, 3, 3, 3, 3, 3]

points = [k376_pts, k377_pts, k378_pts, k379_pts, k380_pts, k381b_pts, k381c_pts, k381d_pts,
          k382_pts, k383_pts, k384b_pts, k384c_pts, k384d_pts, k384e_pts, k384f_pts]
bins = [k376_bins, k377_bins, k378_bins, k379_bins, k380_bins, k381b_bins, k381c_bins, k381d_bins,
        k382_bins, k383_bins, k384b_bins, k384c_bins, k384d_bins, k384e_bins, k384f_bins]
models = [k376_model, k377_model, k378_model, k379_model, k380_model, k381b_model, k381c_model,
          k381d_model, k382_model, k383_model, k384b_model, k384c_model, k384d_model,
          k384e_model, k384f_model]

# figure geometry: width, height, border left, right, top, bottom
geometry = [
    (470, 348, 73, 18, 9, 50), (470, 348, 82, 30, 9, 50), (471, 348, 71, 14, 9, 50),
    (470, 349, 79, 32, 11, 50), (470, 349, 75, 15, 15, 50), (471, 349, 77, 28, 15, 50),
    (470, 348, 73, 32, 11, 49), (470, 348, 76, 33, 11, 49), (471, 348, 77, 18, 11, 49),
    (470, 350, 73, 18, 13, 49), (470, 350, 68, 27, 16, 49), (471, 350, 71, 14, 16, 49),
    (470, 338, 66, 32, 16, 38), (470, 338, 69, 31, 16, 38), (471, 338, 71, 15, 16, 38),
]


def tick_format(decimals):
    return CustomJSTickFormatter(args=dict(d=decimals), code="""
        const v = Math.abs(tick) < 1e-12 ? 0 : tick;
        const s = Math.abs(v).toFixed(d);
        return (v < 0 ? '\u2212' : '') + s;
    """)


def flux(ppm):
    return 1.0 + ppm * 1e-6


def make_panel(i):
    w, h, bl, br, bt, bb = geometry[i]
    x0, x1 = xlims[i]
    y0, y1 = ylims[i]
    p = figure(width=w, height=h, x_range=Range1d(x0, x1), y_range=Range1d(y0, y1),
               output_backend="svg", toolbar_location=None,
               min_border_left=bl, min_border_right=br, min_border_top=bt, min_border_bottom=bb)
    p.grid.visible = False
    p.background_fill_color = "white"
    p.border_fill_color = "white"
    p.outline_line_color = "#7a7a7a"
    p.outline_line_width = 1.2

    for ax in (p.xaxis[0], p.yaxis[0]):
        ax.axis_line_color = "#7a7a7a"
        ax.axis_line_width = 1.2
        ax.major_tick_line_color = "#444444"
        ax.major_tick_out = 4
        ax.major_tick_in = 0
        ax.minor_tick_line_color = None
        ax.major_label_text_font = FONT
        ax.major_label_text_font_size = "10px"
        ax.major_label_text_color = "#262626"
        ax.major_label_standoff = 3
        ax.axis_label_text_font = FONT
        ax.axis_label_text_font_size = "15px"
        ax.axis_label_text_font_style = "normal"
        ax.axis_label_text_color = "#111111"
        ax.axis_label_standoff = 3
    p.xaxis.axis_label = "Phase"
    p.yaxis.axis_label = "Relative flux"
    p.xaxis.ticker = FixedTicker(ticks=xticks[i])
    p.yaxis.ticker = FixedTicker(ticks=yticks[i])
    p.xaxis.formatter = tick_format(xdec[i])
    p.yaxis.formatter = tick_format(ydec[i])

    # individual measurements
    px = [q[0] for q in points[i]]
    py = [flux(q[1]) for q in points[i]]
    if i == 3:
        p.scatter(px, py, size=5, color=BLUE, alpha=0.95, line_color=None)
    else:
        p.scatter(px, py, size=3.6, color=LIGHT, alpha=0.85, line_color=None)

    # transit model, mirrored about mid-transit
    half = models[i]
    mx = [q[0] for q in half] + [-q[0] for q in reversed(half[:-1])]
    my = [flux(q[1]) for q in half] + [flux(q[1]) for q in reversed(half[:-1])]
    line_color = NAVY if i >= 10 else GREEN
    p.line(mx, my, color=line_color, line_width=1.7)

    # binned points with error bars
    bx = [b[0] for b in bins[i]]
    by = [flux(b[1]) for b in bins[i]]
    lo = [flux(b[1] - b[2]) for b in bins[i]]
    hi = [flux(b[1] + b[2]) for b in bins[i]]
    p.segment(x0=bx, y0=lo, x1=bx, y1=hi, color=NAVY, line_width=2.2, alpha=0.9)
    p.scatter(bx, by, size=7.5, color=NAVY, line_color=None)

    # planet name, period and radius
    ty1 = y0 + 0.171 * (y1 - y0)
    ty2 = y0 + 0.091 * (y1 - y0)
    common = dict(text_font=FONT, text_font_size="16px", text_color="#111111",
                  text_baseline="alphabetic", text_align="left")
    p.add_layout(Label(x=x0 + 0.075 * (x1 - x0), y=ty1, text=names[i], **common))
    p.add_layout(Label(x=x0 + 0.65 * (x1 - x0), y=ty1, text="P = %s d" % periods[i], **common))
    p.add_layout(Label(x=x0 + 0.65 * (x1 - x0), y=ty2, text="Rp = %s Re" % radii[i], **common))
    return p


figs = [make_panel(i) for i in range(15)]
rows = [row(figs[3 * r:3 * r + 3]) for r in range(5)]
layout = column(rows)

open("out.html", "w").write(file_html(layout, INLINE))
